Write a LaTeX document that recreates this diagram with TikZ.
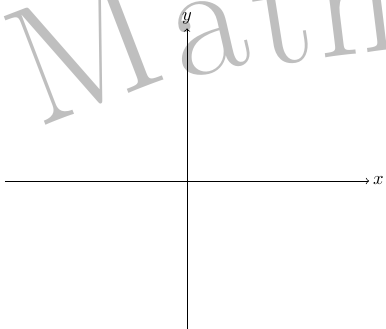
\documentclass[tikz,border=0pt]{standalone}
\tikzset{
	wmark/.style={black!25, anchor=base west, inner sep=0pt,
	              font=\fontsize{88}{90}\selectfont},
}
\begin{document}
\begin{tikzpicture}
	\clip (-3.553,-2.812) rectangle (3.781,3.439);
	% watermark letters
	\node[wmark, rotate=21, font=\fontsize{92}{94}\selectfont] (wmM) at (-2.85,1.0) {M};
	\node[wmark, rotate=13] (wma) at (-0.12,1.92) {a};
	\node[wmark, rotate=9] (wmt) at (1.40,2.16) {t};
	\node[wmark, rotate=7] (wmh) at (2.52,2.32) {h};
	\coordinate (xl) at (-3.46,0);
	\coordinate (xr) at (3.46,0);
	\coordinate (yd) at (0,-2.9);
	\coordinate (yu) at (0,2.9);
	\draw [->] (xl) -- (xr);
	\draw [->] (yd) -- (yu);
	\node [right, inner sep=2pt] (xlab) at (xr) {$x$};
	\node [above, inner sep=2pt] (ylab) at (yu) {$y$};
\end{tikzpicture}
\end{document}
